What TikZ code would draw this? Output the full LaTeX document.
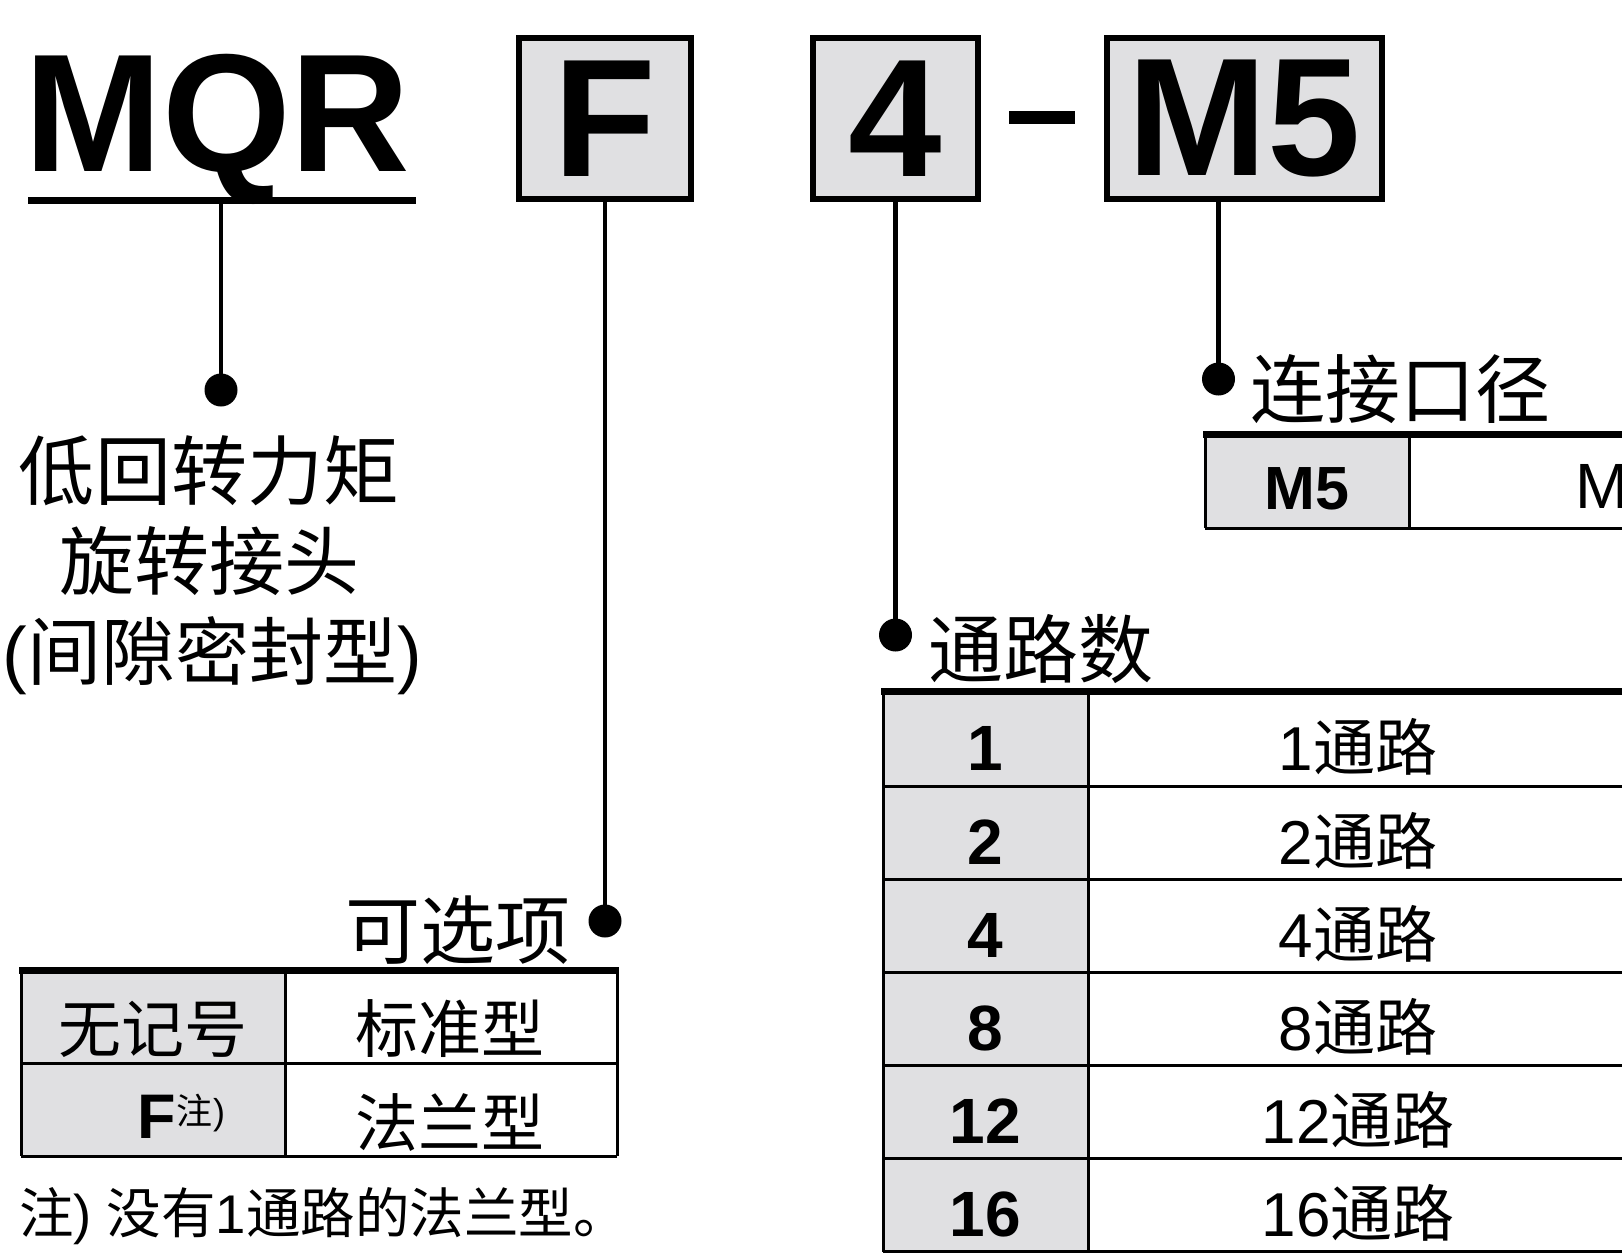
\documentclass[tikz,border=0pt]{standalone}
\usepackage{fontspec}
\setmainfont{Liberation Sans}
\newfontfamily\cjk{Noto Sans CJK SC}
\definecolor{cellgray}{RGB}{224,224,226}
\begin{document}
\begin{tikzpicture}[x=1pt,y=-1pt,
  kbox/.style={draw, line width=6.5pt, fill=cellgray, inner sep=0pt,
    font=\fontsize{168}{168}\selectfont\bfseries},
  conn/.style={line width=4.5pt},
  dotn/.style={circle, fill=black, inner sep=0pt, minimum size=33pt},
  headrule/.style={line width=7pt},
  cellrule/.style={line width=3pt},
  lbl/.style={inner sep=0pt, font=\fontsize{75}{75}\selectfont\cjk},
  optxt/.style={inner sep=0pt, font=\fontsize{63}{63}\selectfont\cjk},
  numb/.style={inner sep=0pt, font=\fontsize{64}{64}\selectfont\bfseries},
  cellt/.style={inner sep=0pt, font=\fontsize{62}{62}\selectfont},
]
\useasboundingbox (0,0) rectangle (1622,1255);
\clip (0,0) rectangle (1622,1255);

% ---------- model code ----------
\node[inner sep=0pt, anchor=base west, font=\fontsize{168}{168}\selectfont\bfseries] (mqr) at (24,171) {\scalebox{0.985}[1]{MQR}};
\coordinate (ulL) at (28,200);
\coordinate (ulR) at (416,200);
\draw[line width=7pt] (ulL) -- (ulR);
\coordinate (mqrT) at (221,200);

\node[kbox, minimum width=172pt, minimum height=161pt] (fbox) at (605,118.5) {F};
\node[kbox, minimum width=165pt, minimum height=161pt] (fourbox) at (895.5,118.5) {4};
\node[kbox, minimum width=275pt, minimum height=161pt] (mfbox) at (1244.5,118.5) {M5};
\coordinate (dashL) at (1009,117);
\coordinate (dashR) at (1075,117);
\draw[line width=13pt] (dashL) -- (dashR);

% ---------- dots and connectors ----------
\node[dotn] (d1) at (221,390) {};
\node[dotn] (d2) at (605,921) {};
\node[dotn] (d3) at (895.5,635) {};
\node[dotn] (d4) at (1218.5,379) {};
\draw[conn] (mqrT) -- (d1.center);
\draw[conn] (fbox.south) -- (d2.center);
\draw[conn] (fourbox.south) -- (d3.center);
\draw[conn] (d4.center |- mfbox.south) -- (d4.center);

% ---------- MQR description ----------
\node[lbl, font=\fontsize{76}{76}\selectfont\cjk, anchor=base] (t1) at (209,499) {低回转力矩};
\node[lbl, font=\fontsize{75}{75}\selectfont\cjk, anchor=base] (t2) at (209,589) {旋转接头};
\node[lbl, font=\fontsize{74}{74}\selectfont\cjk, anchor=base] (t3) at (212,679) {{\normalfont(}间隙密封型{\normalfont)}};

% ---------- option table ----------
\node[lbl, anchor=base east] (optlbl) at (571,958) {可选项};
\fill[cellgray] (21,970) rectangle (285,1156);
\draw[cellrule] (21,1063) -- (617,1063);
\draw[cellrule] (21,1156) -- (617,1156);
\draw[cellrule] (21,970) -- (21,1156);
\draw[cellrule] (285,970) -- (285,1156);
\draw[cellrule] (617,970) -- (617,1156);
\draw[headrule] (19,970) -- (619,970);
\node[optxt, anchor=base] (o1a) at (153,1052) {无记号};
\node[optxt, anchor=base] (o1b) at (450,1052) {标准型};
\node[inner sep=0pt, anchor=base, font=\fontsize{63}{63}\selectfont\bfseries] (o2a) at (157,1138)
  {F\rlap{\raisebox{14pt}{\fontsize{36}{36}\selectfont\mdseries{\cjk 注}\kern1pt)}}};
\node[optxt, anchor=base] (o2b) at (450,1146) {法兰型};
\node[inner sep=0pt, anchor=base west, font=\fontsize{54.5}{54.5}\selectfont] (note) at (19,1233)
  {{\cjk 注})\ {\cjk 没有}1{\cjk 通路的法兰型。}};

% ---------- port size ----------
\node[lbl, anchor=base west] (portlbl) at (1250,417) {连接口径};
\fill[cellgray] (1205,434) rectangle (1409,528);
\draw[cellrule] (1205,528) -- (1630,528);
\draw[cellrule] (1205,434) -- (1205,528);
\draw[cellrule] (1409,434) -- (1409,528);
\draw[headrule] (1203,434) -- (1630,434);
\node[numb, font=\fontsize{61}{61}\selectfont\bfseries, anchor=base] (p1a) at (1307,509) {M5};
\node[cellt, font=\fontsize{64}{64}\selectfont, anchor=base west] (p1b) at (1575,508) {M};

% ---------- number of passages ----------
\node[lbl, anchor=base west] (passlbl) at (928,677) {通路数};
\fill[cellgray] (883,691) rectangle (1088,1251);
\foreach \yy in {786,879,972,1065,1158,1251}
  \draw[cellrule] (883,\yy) -- (1630,\yy);
\draw[cellrule] (883,691) -- (883,1252);
\draw[cellrule] (1088,691) -- (1088,1252);
\draw[headrule] (881,691) -- (1630,691);
\foreach \n/\yy [count=\i] in {1/770.5, 2/864.5, 4/957.5, 8/1050.5, 12/1143.5, 16/1236.5} {
  \node[numb, anchor=base] (pa\i) at (985,\yy) {\n};
  \node[cellt, anchor=base] (pb\i) at (1358,\yy) {\n{\cjk 通路}};
}
\end{tikzpicture}
\end{document}
